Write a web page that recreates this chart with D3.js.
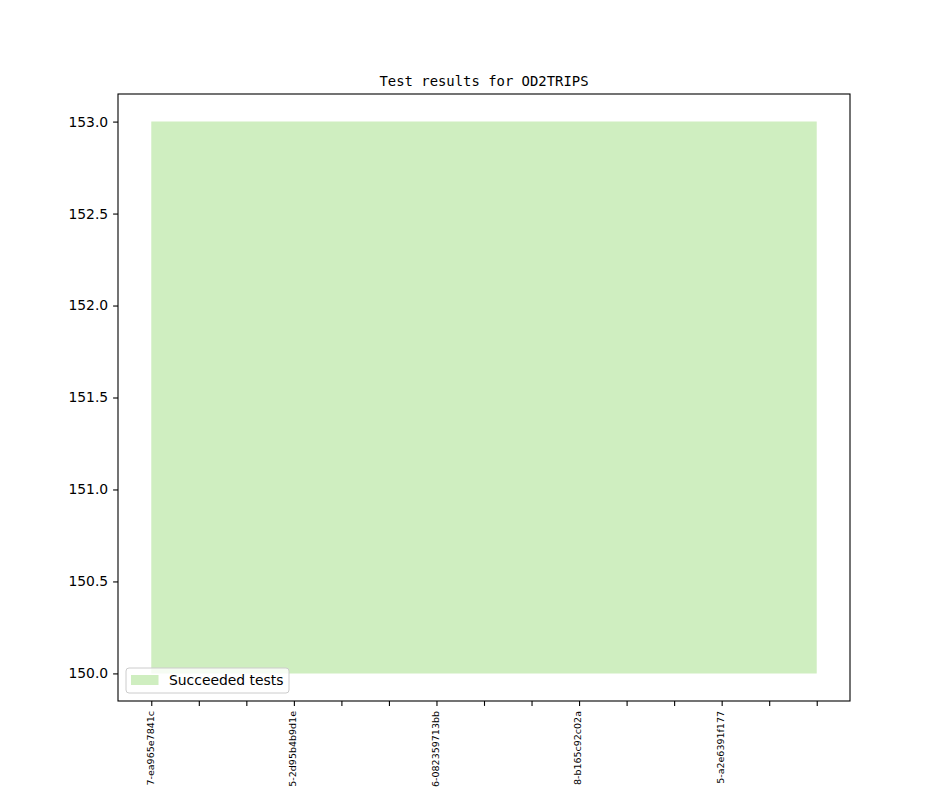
<!DOCTYPE html>
<html>
<head>
<meta charset="utf-8">
<script src="https://cdn.jsdelivr.net/npm/d3@7"></script>
<style>
  body { margin: 0; background: #fff; }
  text { font-family: "DejaVu Sans", sans-serif; }
</style>
</head>
<body>
<div id="chart"></div>
<script>
// test runs (x index), only every third one gets a label
// (labels are the part of the commit ids that is visible in the picture)
var runs = [0, 1, 2, 3, 4, 5, 6, 7, 8, 9, 10, 11, 12, 13, 14];
var runLabels = ["7-ea965e7841c", "", "", "5-2d95b4b9d1e", "", "",
  "6-082359713bb", "", "", "8-b165c92c02a", "", "",
  "5-a2e6391f177", "", ""];
var succeeded = [153, 153, 153, 153, 153, 153, 153, 153, 153, 153, 153, 153, 153, 153, 153];
var baseline = [150, 150, 150, 150, 150, 150, 150, 150, 150, 150, 150, 150, 150, 150, 150];
var yTicks = [150.0, 150.5, 151.0, 151.5, 152.0, 152.5, 153.0];

var svgWidth = 944;
var svgHeight = 787;

var margin = {
  top: 94,
  right: 94,
  bottom: 86,
  left: 118
};

var width = svgWidth - margin.left - margin.right;
var height = svgHeight - margin.top - margin.bottom;

var svg = d3.select("#chart")
  .append("svg").attr("width", svgWidth).attr("height", svgHeight);

var chartGroup = svg.append("g")
  .attr("transform", `translate(${margin.left}, ${margin.top})`);

// matplotlib style 5% margins
var xPad = (d3.max(runs) - d3.min(runs)) * 0.05;
var xScale = d3.scaleLinear()
  .domain([d3.min(runs) - xPad, d3.max(runs) + xPad])
  .range([0, width]);

var yMin = d3.min(baseline), yMax = d3.max(succeeded);
var yPad = (yMax - yMin) * 0.05;
var yScale = d3.scaleLinear()
  .domain([yMin - yPad, yMax + yPad])
  .range([height, 0]);

var data = runs.map(function(r, i) {
  return { x: r, y0: baseline[i], y1: succeeded[i] };
});

var area = d3.area()
  .x(d => xScale(d.x))
  .y0(d => yScale(d.y0))
  .y1(d => yScale(d.y1));

chartGroup.append("path")
  .datum(data)
  .attr("d", area)
  .attr("fill", "#cfeec0");

// axes
var bottomAxis = d3.axisBottom(xScale)
  .tickValues(runs)
  .tickSize(4.9)
  .tickPadding(4.9)
  .tickFormat((d, i) => runLabels[i]);

var leftAxis = d3.axisLeft(yScale)
  .tickValues(yTicks)
  .tickSize(4.9)
  .tickPadding(4.9)
  .tickFormat(d3.format(".1f"));

var xAxis = chartGroup.append("g")
  .attr("transform", `translate(0, ${height})`)
  .call(bottomAxis);

xAxis.selectAll("text")
  .attr("font-size", "9.5px")
  .attr("font-family", "DejaVu Sans")
  .attr("fill", "#000")
  .attr("y", 0)
  .attr("x", 0)
  .attr("dy", "0.35em")
  .attr("text-anchor", "end")
  .attr("transform", "translate(-1.5, 10) rotate(-90)");

var yAxis = chartGroup.append("g")
  .call(leftAxis);

yAxis.selectAll("text")
  .attr("font-size", "13.9px")
  .attr("font-family", "DejaVu Sans")
  .attr("fill", "#000");

[xAxis, yAxis].forEach(function(ax) {
  ax.select(".domain").remove();
  ax.selectAll("line").attr("stroke", "#000").attr("stroke-width", 1.1);
});

// frame
chartGroup.append("rect")
  .attr("width", width)
  .attr("height", height)
  .attr("fill", "none")
  .attr("stroke", "#000")
  .attr("stroke-width", 1.1);

// title
chartGroup.append("text")
  .attr("x", width / 2)
  .attr("y", -8)
  .attr("text-anchor", "middle")
  .style("font-family", "'DejaVu Sans Mono', monospace")
  .attr("font-size", "13.9px")
  .text("Test results for OD2TRIPS");

// legend
var legend = chartGroup.append("g")
  .attr("transform", `translate(8, ${height - 33})`);

legend.append("rect")
  .attr("width", 163)
  .attr("height", 25)
  .attr("rx", 3)
  .attr("fill", "#fff")
  .attr("fill-opacity", 0.8)
  .attr("stroke", "#ccc")
  .attr("stroke-width", 1);

legend.append("rect")
  .attr("x", 5)
  .attr("y", 7)
  .attr("width", 27.5)
  .attr("height", 10)
  .attr("fill", "#cfeec0");

legend.append("text")
  .attr("x", 43)
  .attr("y", 17)
  .attr("font-size", "13.9px")
  .text("Succeeded tests");
</script>
</body>
</html>
